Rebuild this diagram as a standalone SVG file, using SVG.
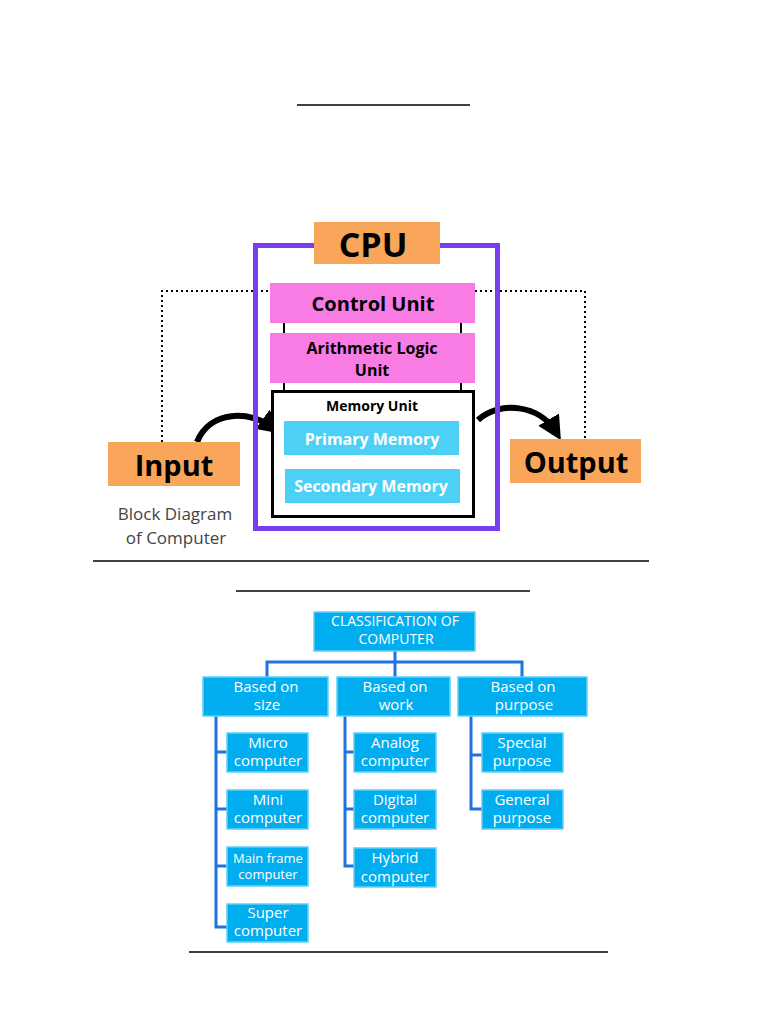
<svg xmlns="http://www.w3.org/2000/svg" width="768" height="1024" viewBox="0 0 768 1024">
<style>
.rule{stroke:#000;stroke-width:1.5}
.org{fill:#f9a65a}
.pink{fill:#f97ce5}
.cy{fill:#4dd0f5}
.b{font-family:"Open Sans","DejaVu Sans",sans-serif;font-weight:bold;text-anchor:middle}
.w{font-family:"Open Sans","DejaVu Sans",sans-serif;text-anchor:middle;fill:#fff}
.cb{fill:#00aeef;stroke:#5fd0f7;stroke-width:1.5}
.cl{fill:none;stroke:#1e73dc;stroke-width:3}
.ar{stroke:#000;stroke-width:2;fill:none;marker-end:url(#ah)}
.cv{stroke:#000;stroke-width:6;fill:none;marker-end:url(#big)}
</style>
<defs>
<marker id="ah" viewBox="0 0 10 10" refX="8" refY="5" markerWidth="4" markerHeight="4" orient="auto"><path d="M0,0L10,5L0,10z"/></marker>
<marker id="big" viewBox="0 0 10 10" refX="6" refY="5" markerWidth="4" markerHeight="4" orient="auto"><path d="M0,0L10,5L0,10z"/></marker>
</defs>
<rect width="768" height="1024" fill="#fff"/>
<line class="rule" x1="297" y1="105" x2="470" y2="105"/>
<line class="rule" x1="93" y1="561" x2="649" y2="561"/>
<line class="rule" x1="236" y1="591" x2="530" y2="591"/>
<line class="rule" x1="189" y1="952" x2="608" y2="952"/>

<g id="connectors">
<polyline points="162,442 162,291 270,291" fill="none" stroke="#000" stroke-width="2" stroke-dasharray="2,3"/>
<polyline points="475,291 585,291 585,439" fill="none" stroke="#000" stroke-width="2" stroke-dasharray="2,3"/>
<line class="ar" x1="284" y1="333" x2="284" y2="307"/>
<line class="ar" x1="284" y1="404" x2="284" y2="365"/>
<line class="ar" x1="461" y1="308" x2="461" y2="348"/>
<line class="ar" x1="461" y1="372" x2="461" y2="408"/>
<path class="cv" d="M197,442 C210,410 250,410 274,428"/>
<path class="cv" d="M478,420 C500,400 540,405 556,432"/>
<line class="cl" x1="395" y1="651" x2="395" y2="662"/>
<polyline class="cl" points="267,677 267,662 522,662 522,677"/>
<line class="cl" x1="395" y1="662" x2="395" y2="677"/>
<polyline class="cl" points="216,716 216,927 227,927"/>
<line class="cl" x1="216" y1="752" x2="227" y2="752"/>
<line class="cl" x1="216" y1="809" x2="227" y2="809"/>
<line class="cl" x1="216" y1="866" x2="227" y2="866"/>
<polyline class="cl" points="345,716 345,866 354,866"/>
<line class="cl" x1="345" y1="752" x2="354" y2="752"/>
<line class="cl" x1="345" y1="809" x2="354" y2="809"/>
<polyline class="cl" points="471,716 471,809 482,809"/>
<line class="cl" x1="471" y1="755" x2="482" y2="755"/>
</g>

<g id="cpu">
<rect x="255.5" y="245.5" width="242" height="283" fill="none" stroke="#7a3cf0" stroke-width="5"/>
<rect class="org" x="314" y="222" width="126" height="42"/>
<text class="b" x="373" y="257" font-size="34">CPU</text>
</g>
<g id="control"><rect class="pink" x="270" y="283" width="205" height="40"/><text class="b" x="373" y="311" font-size="20">Control Unit</text></g>
<g id="alu"><rect class="pink" x="270" y="333" width="205" height="50"/><text class="b" x="372" y="354" font-size="16">Arithmetic Logic</text><text class="b" x="372" y="376" font-size="16">Unit</text></g>
<g id="memory"><rect x="272.5" y="391.5" width="201" height="125" fill="#fff" stroke="#000" stroke-width="3"/><text class="b" x="372" y="411" font-size="14" font-weight="600">Memory Unit</text></g>
<g id="primary"><rect class="cy" x="284" y="421" width="175" height="34"/><text class="b" x="372" y="445" font-size="16" fill="#fff">Primary Memory</text></g>
<g id="secondary"><rect class="cy" x="285" y="469" width="175" height="34"/><text class="b" x="371" y="492" font-size="16" fill="#fff">Secondary Memory</text></g>
<g id="input"><rect class="org" x="108" y="442" width="132" height="44"/><text class="b" x="174" y="476" font-size="29">Input</text></g>
<g id="output"><rect class="org" x="510" y="439" width="131" height="44"/><text class="b" x="576" y="473" font-size="29">Output</text></g>
<g id="caption" font-family="'Open Sans','DejaVu Sans',sans-serif" font-size="17" fill="#444" text-anchor="middle">
<text x="175" y="520">Block Diagram</text><text x="176" y="544">of Computer</text></g>

<g id="class"><rect class="cb" x="314" y="612" width="161" height="39"/><text class="w" x="395" y="626" font-size="14">CLASSIFICATION OF</text><text class="w" x="396" y="644" font-size="14">COMPUTER</text></g>
<g id="size"><rect class="cb" x="203" y="677" width="125" height="39"/><text class="w" x="266" y="692" font-size="15">Based on</text><text class="w" x="267" y="710" font-size="15">size</text></g>
<g id="work"><rect class="cb" x="337" y="677" width="113" height="39"/><text class="w" x="395" y="692" font-size="15">Based on</text><text class="w" x="396" y="710" font-size="15">work</text></g>
<g id="purpose"><rect class="cb" x="458" y="677" width="129" height="39"/><text class="w" x="523" y="692" font-size="15">Based on</text><text class="w" x="524" y="710" font-size="15">purpose</text></g>
<g id="micro"><rect class="cb" x="227" y="733" width="81" height="39"/><text class="w" x="268" y="748" font-size="15">Micro</text><text class="w" x="268" y="766" font-size="15">computer</text></g>
<g id="mini"><rect class="cb" x="227" y="790" width="81" height="39"/><text class="w" x="268" y="805" font-size="15">Mini</text><text class="w" x="268" y="823" font-size="15">computer</text></g>
<g id="mainframe"><rect class="cb" x="227" y="847" width="81" height="39"/><text class="w" x="268" y="863" font-size="13">Main frame</text><text class="w" x="268" y="879" font-size="13">computer</text></g>
<g id="super"><rect class="cb" x="227" y="904" width="81" height="38"/><text class="w" x="268" y="918" font-size="15">Super</text><text class="w" x="268" y="936" font-size="15">computer</text></g>
<g id="analog"><rect class="cb" x="354" y="733" width="82" height="39"/><text class="w" x="395" y="748" font-size="15">Analog</text><text class="w" x="395" y="766" font-size="15">computer</text></g>
<g id="digital"><rect class="cb" x="354" y="790" width="82" height="39"/><text class="w" x="395" y="805" font-size="15">Digital</text><text class="w" x="395" y="823" font-size="15">computer</text></g>
<g id="hybrid"><rect class="cb" x="354" y="848" width="82" height="39"/><text class="w" x="395" y="863" font-size="15">Hybrid</text><text class="w" x="395" y="882" font-size="15">computer</text></g>
<g id="special"><rect class="cb" x="482" y="733" width="81" height="39"/><text class="w" x="522" y="748" font-size="15">Special</text><text class="w" x="522" y="766" font-size="15">purpose</text></g>
<g id="general"><rect class="cb" x="482" y="790" width="81" height="39"/><text class="w" x="522" y="805" font-size="15">General</text><text class="w" x="522" y="823" font-size="15">purpose</text></g>
</svg>
